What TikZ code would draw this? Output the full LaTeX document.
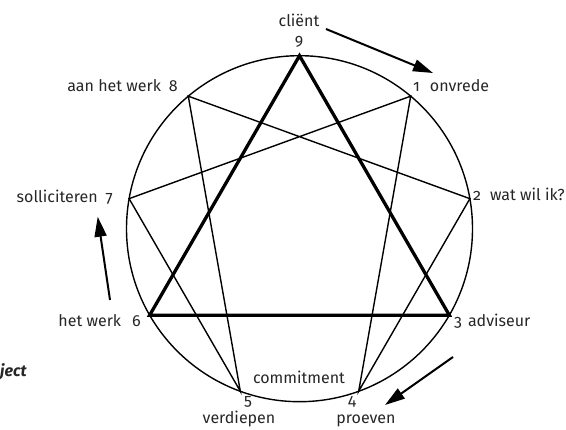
\documentclass[tikz,border=0pt]{standalone}
\usepackage{fontspec}
\setmainfont{Fira Sans}[Numbers=OldStyle]
\usetikzlibrary{arrows.meta,calc}
\begin{document}
\begin{tikzpicture}[x=1pt,y=-1pt,
  lbl/.style={inner sep=0pt,font=\fontsize{16}{18}\selectfont,text=black!85},
  thin/.style={line width=1.4pt},
  thick/.style={line width=3.3pt,line join=miter},
  flow/.style={line width=2pt,-{Triangle[length=20pt,width=12pt]}}]
\useasboundingbox (0,0) rectangle (566,430);
\coordinate (c) at (299.5,228.7);
\draw[thin] (c) circle[radius=173];
\foreach \n/\a in {9/90,1/50,2/10,3/-30,4/-70,5/-110,6/-150,7/170,8/130}
  \coordinate (p\n) at ($(c)+({173*cos(\a)},{-173*sin(\a)})$);
\draw[thin] (p1) -- (p4) -- (p2) -- (p8) -- (p5) -- (p7) -- cycle;
\draw[thick] (p9) -- (p3) -- (p6) -- cycle;
% labels
\node[lbl,anchor=base] (tclient) at (299,26.7) {cliënt};
\node[lbl] (t9) at (299,42) {9};
\node[lbl,anchor=base east] (t8) at (178,91.7) {aan het werk\hspace{8pt}8};
\node[lbl,anchor=base west] (t1) at (413,91.7) {1\hspace{10pt}onvrede};
\node[lbl,anchor=base east] (t7) at (113,202.3) {solliciteren\hspace{8pt}7};
\node[lbl,anchor=base west] (t2) at (473,201) {2\hspace{9pt}wat wil ik?};
\node[lbl,anchor=base east] (t6) at (141,326.7) {het werk\hspace{11pt}6};
\node[lbl,anchor=base west] (t3) at (454,326.7) {3\hspace{6pt}adviseur};
\node[lbl,anchor=base] (tcom) at (299,383.3) {commitment};
\node[lbl] (t5) at (248,402) {5};
\node[lbl,anchor=base] (tverd) at (239,424) {verdiepen};
\node[lbl] (t4) at (352,402) {4};
\node[lbl,anchor=base] (tproe) at (366,424) {proeven};
\node[lbl,anchor=west,font=\fontsize{16}{18}\selectfont\bfseries\itshape] (tject) at (0,372) {ject};
% arrows
\coordinate (a1s) at (326,29);
\coordinate (a1e) at (433,73);
\coordinate (a2s) at (110,300);
\coordinate (a2e) at (97.7,216.7);
\coordinate (a3s) at (453,357);
\coordinate (a3e) at (385,405);
\draw[flow] (a1s) -- (a1e);
\draw[flow] (a2s) -- (a2e);
\draw[flow] (a3s) -- (a3e);
\end{tikzpicture}
\end{document}
